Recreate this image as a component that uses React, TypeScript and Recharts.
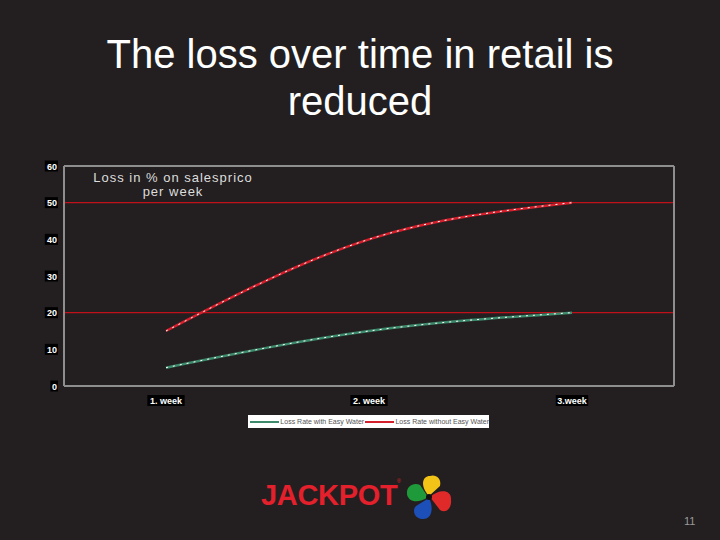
import React from 'react';
import {
  LineChart, Line, XAxis, YAxis, ReferenceLine, Legend,
} from 'recharts';

const weeks = ['1. week', '2. week', '3.week'];
const withEasyWater = [5, 15, 20];
const withoutEasyWater = [15, 40, 50];
const yTicks = [0, 10, 20, 30, 40, 50, 60];
const redGrid = [20, 50];

const data = weeks.map((week, i) => ({
  week,
  with: withEasyWater[i],
  without: withoutEasyWater[i],
}));

const BG = '#231f20';
const RED = '#d4202c';
const GREEN = '#3e8a6c';
const FRAME = { stroke: '#8e8e8e', strokeWidth: 2 };
const FONT = '"Liberation Sans", Arial, sans-serif';

const YTick = (props: any) => {
  const { x, y, payload } = props;
  const s = String(payload.value);
  const w = s.length * 5.6 + 2;
  return (
    <g>
      <rect x={x - w} y={y - 5.5} width={w} height={11} fill="#000" />
      <text x={x - 1} y={y + 3.5} textAnchor="end" fill="#fff" fontSize={9} fontWeight="bold" fontFamily={FONT}>
        {s}
      </text>
    </g>
  );
};

const XTick = (props: any) => {
  const { x, y, payload } = props;
  const s = String(payload.value);
  const w = s.length * 4.9 + 3;
  return (
    <g>
      <rect x={x - w / 2} y={y - 5} width={w} height={11} fill="#000" />
      <text x={x} y={y + 4} textAnchor="middle" fill="#fff" fontSize={9} fontWeight="bold" fontFamily={FONT}>
        {s}
      </text>
    </g>
  );
};

const LegendBox = () => (
  <div
    style={{
      background: '#fff', width: 241, height: 13, display: 'flex', alignItems: 'center',
      fontFamily: FONT, fontSize: 7, color: '#555', whiteSpace: 'nowrap', boxSizing: 'border-box', paddingLeft: 2,
    }}
  >
    <span style={{ display: 'inline-block', width: 30, height: 2, background: GREEN, marginRight: 1 }} />
    <span>Loss Rate with Easy Water</span>
    <span style={{ display: 'inline-block', width: 30, height: 2, background: RED, margin: '0 1px' }} />
    <span>Loss Rate without Easy Water</span>
  </div>
);

const Clover = () => (
  <svg width={54} height={52} style={{ position: 'absolute', left: 402, top: 472 }}>
    <path d="M27 24 C18 14 20 4 28 4 C33 2 40 6 38 14 Z" fill="#f2c418" />
    <path d="M28 25 C38 16 50 18 49 28 C50 36 44 42 38 38 Z" fill="#e02a2a" />
    <path d="M27 26 C32 36 30 48 20 47 C12 46 10 38 14 34 Z" fill="#1c4fb8" />
    <path d="M26 25 C16 32 6 30 5 22 C4 14 12 10 18 13 Z" fill="#1f9a3a" />
    <circle cx={27} cy={25} r={3} fill="#111" />
  </svg>
);

export default function App() {
  return (
    <div
      style={{
        position: 'absolute', left: 0, top: 0, width: 720, height: 540, background: BG,
        overflow: 'hidden', fontFamily: FONT,
      }}
    >
      <div
        style={{
          position: 'absolute', left: 0, top: 31, width: 720, textAlign: 'center', color: '#fff',
          fontSize: 40, lineHeight: '47px',
        }}
      >
        The loss over time in retail is
        <br />
        reduced
      </div>

      <LineChart
        width={720}
        height={540}
        data={data}
        margin={{ top: 166, right: 45, bottom: 124, left: 34 }}
        style={{ position: 'absolute', left: 0, top: 0 }}
      >
        <XAxis
          dataKey="week"
          height={30}
          padding={{ left: 102, right: 102 }}
          tickLine={false}
          axisLine={FRAME}
          tickSize={0}
          tickMargin={14}
          tick={<XTick />}
          interval={0}
        />
        <YAxis
          width={30}
          domain={[0, 60]}
          ticks={yTicks}
          tickLine={false}
          axisLine={FRAME}
          tickSize={0}
          tickMargin={6}
          tick={<YTick />}
          interval={0}
        />
        <YAxis yAxisId="right" orientation="right" width={1} domain={[0, 60]} tick={false} tickLine={false} axisLine={FRAME} />
        <ReferenceLine y={60} stroke="#8e8e8e" strokeWidth={2} />
        {redGrid.map((v) => (
          <ReferenceLine key={v} y={v} stroke="#c0101a" strokeWidth={1.2} />
        ))}
        <Line type="monotone" dataKey="with" stroke={GREEN} strokeWidth={2.5} dot={false} isAnimationActive={false} />
        <Line type="monotone" dataKey="with" stroke="#fff" strokeWidth={1} strokeDasharray="2 5" dot={false} legendType="none" isAnimationActive={false} />
        <Line type="monotone" dataKey="without" stroke={RED} strokeWidth={2.5} dot={false} isAnimationActive={false} />
        <Line type="monotone" dataKey="without" stroke="#fff" strokeWidth={1} strokeDasharray="2 5" dot={false} legendType="none" isAnimationActive={false} />
        <Legend
          layout="horizontal"
          verticalAlign="middle"
          content={<LegendBox />}
          wrapperStyle={{ position: 'absolute', left: 248, top: 415, width: 241 }}
        />
      </LineChart>

      <div
        style={{
          position: 'absolute', left: 78, top: 171, width: 190, textAlign: 'center', color: '#ddd',
          fontSize: 13, lineHeight: '14px', letterSpacing: 1,
        }}
      >
        Loss in % on salesprico
        <br />
        per week
      </div>

      <div
        style={{
          position: 'absolute', left: 261, top: 478, color: '#e3202b', fontSize: 29, fontWeight: 'bold',
          letterSpacing: -0.3, lineHeight: '34px',
        }}
      >
        JACKPOT
      </div>
      <div style={{ position: 'absolute', left: 397, top: 478, color: '#e3202b', fontSize: 5 }}>®</div>
      <Clover />

      <div style={{ position: 'absolute', left: 684, top: 515, color: '#9a9a9a', fontSize: 11 }}>11</div>
    </div>
  );
}
